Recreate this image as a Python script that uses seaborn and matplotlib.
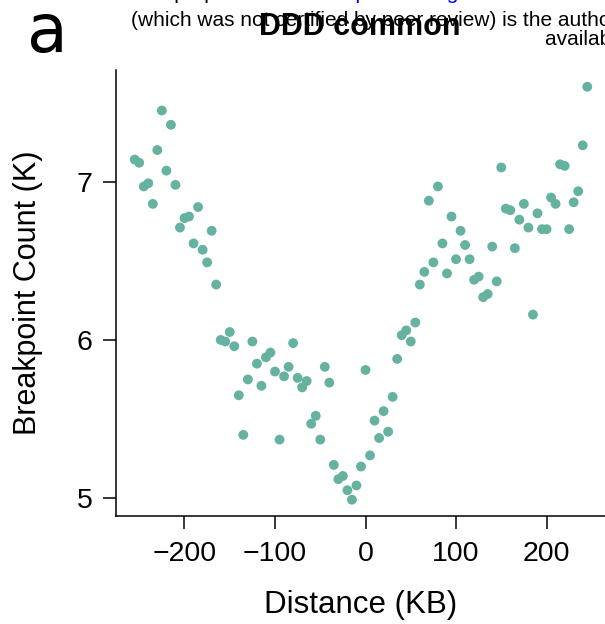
import matplotlib
matplotlib.use("Agg")
import matplotlib.pyplot as plt
import seaborn as sns
import pandas as pd

distance_kb = list(range(-255, 250, 5))
breakpoint_k = [
    7.14, 7.12, 6.97, 6.99, 6.86, 7.20, 7.45, 7.07, 7.36, 6.98,
    6.71, 6.77, 6.78, 6.61, 6.84, 6.57, 6.49, 6.69, 6.35, 6.00,
    5.99, 6.05, 5.96, 5.65, 5.40, 5.75, 5.99, 5.85, 5.71, 5.89,
    5.92, 5.80, 5.37, 5.77, 5.83, 5.98, 5.76, 5.70, 5.74, 5.47,
    5.52, 5.37, 5.83, 5.73, 5.21, 5.12, 5.14, 5.05, 4.99, 5.08,
    5.20, 5.81, 5.27, 5.49, 5.38, 5.55, 5.42, 5.64, 5.88, 6.03,
    6.06, 5.99, 6.11, 6.35, 6.43, 6.88, 6.49, 6.97, 6.61, 6.42,
    6.78, 6.51, 6.69, 6.60, 6.51, 6.38, 6.40, 6.27, 6.29, 6.59,
    6.37, 7.09, 6.83, 6.82, 6.58, 6.76, 6.86, 6.71, 6.16, 6.80,
    6.70, 6.70, 6.90, 6.86, 7.11, 7.10, 6.70, 6.87, 6.94, 7.23,
    7.60,
]
x_ticks = [-200, -100, 0, 100, 200]
y_ticks = [5, 6, 7]
title = "DDD common"
x_label = "Distance (KB)"
y_label = "Breakpoint Count (K)"

sns.set_style("ticks")
plt.rcParams["font.family"] = ["Liberation Sans", "DejaVu Sans"]
plt.rcParams["axes.unicode_minus"] = True
plt.rcParams["text.color"] = "black"
plt.rcParams["axes.labelcolor"] = "black"
plt.rcParams["xtick.color"] = "black"
plt.rcParams["ytick.color"] = "black"

df = pd.DataFrame({"Distance": distance_kb, "Breakpoints": breakpoint_k})

fig = plt.figure(figsize=(6.05, 6.24), dpi=100)
ax = fig.add_axes([0.1911, 0.1723, 0.8089, 0.7155])

sns.scatterplot(data=df, x="Distance", y="Breakpoints", ax=ax,
                color="#66B2A0", s=50, linewidth=0, edgecolor="none", alpha=1)

ax.set_xlim(-276.1, 264.6)
ax.set_ylim(4.884, 7.706)
ax.set_xticks(x_ticks)
ax.set_yticks(y_ticks)
ax.tick_params(axis="both", length=9.5, width=1.1, labelsize=20.5,
               color="black", labelcolor="black")
ax.tick_params(axis="x", pad=8)
ax.tick_params(axis="y", pad=7)
for s in ["top", "right"]:
    ax.spines[s].set_visible(False)
for s in ["left", "bottom"]:
    ax.spines[s].set_linewidth(1.1)
    ax.spines[s].set_color("black")

ax.set_xlabel(x_label, fontsize=22.5, labelpad=17)
ax.set_ylabel(y_label, fontsize=22, labelpad=24)

# bioRxiv watermark text lines behind the title (top line mostly cut off)
fig.text(100 / 605, 1 + 0.8 / 624, "bioRxiv preprint doi: ",
         fontsize=15, ha="left", va="baseline", color="black")
fig.text(332 / 605, 1 + 0.8 / 624, "https://doi.org/10.1101/2022.08.04",
         fontsize=15, ha="left", va="baseline", color="blue")
fig.text(131 / 605, 1 - 26 / 624,
         "(which was not certified by peer review) is the author/funder, who has granted bioRxiv a license",
         fontsize=15, ha="left", va="baseline", color="black")
fig.text(545 / 605, 1 - 45 / 624, "available under aCC-BY-NC-ND 4.0 International license",
         fontsize=15, ha="left", va="baseline", color="black")

fig.text(360 / 605, 1 - 35 / 624, title, fontsize=22, fontweight="bold",
         ha="center", va="baseline")
fig.text(27 / 605, 1 - 52 / 624, "a", fontsize=48, family="DejaVu Sans",
         ha="left", va="baseline")

fig.savefig("out.png", dpi=100)
